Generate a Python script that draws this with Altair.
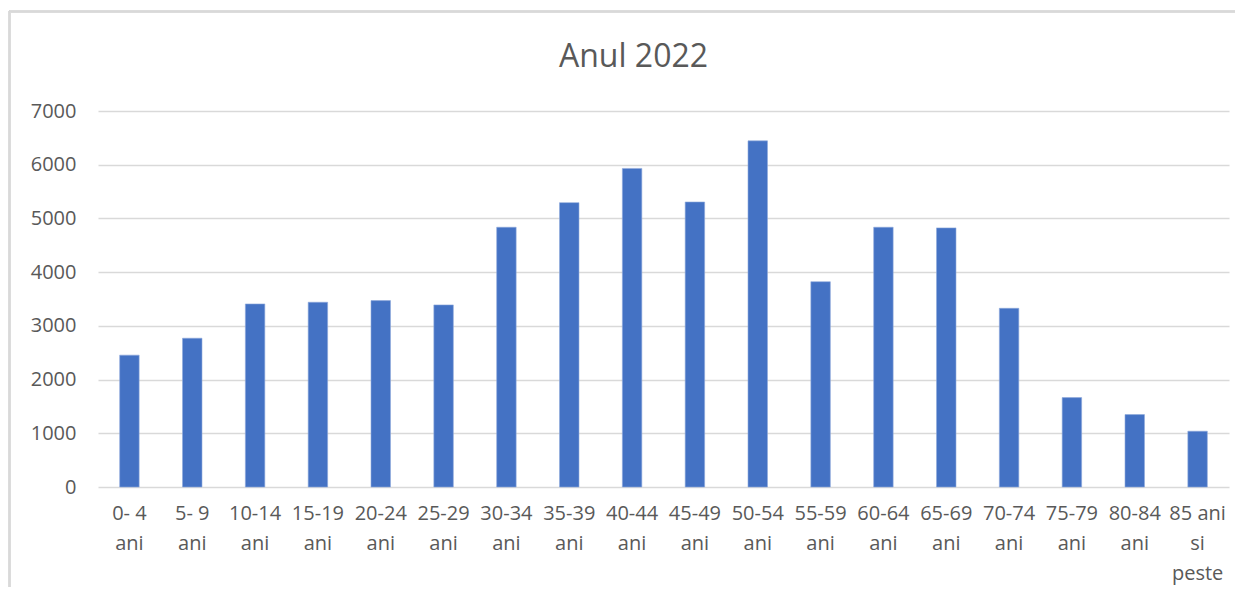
import altair as alt
import pandas as pd

categories = [
    "0- 4|ani", "5- 9|ani", "10-14|ani", "15-19|ani", "20-24|ani", "25-29|ani",
    "30-34|ani", "35-39|ani", "40-44|ani", "45-49|ani", "50-54|ani", "55-59|ani",
    "60-64|ani", "65-69|ani", "70-74|ani", "75-79|ani", "80-84|ani", "85 ani|si|peste",
]
values = [2455, 2770, 3408, 3440, 3470, 3390, 4836, 5294, 5931, 5306, 6444, 3822,
          4836, 4824, 3327, 1664, 1348, 1039]
y_ticks = [0, 1000, 2000, 3000, 4000, 5000, 6000, 7000]

df = pd.DataFrame({"grupa": categories, "valoare": values})

FONT = "Open Sans"
TXT = "#595959"
GRID = "#d9d9d9"

bars = alt.Chart(df).mark_bar(color="#4472C4", stroke="#8faadc", strokeWidth=0.6).encode(
    x=alt.X(
        "grupa:N",
        sort=None,
        title=None,
        scale=alt.Scale(paddingInner=0.69, paddingOuter=0.345),
        axis=alt.Axis(
            labelAngle=0,
            labelExpr="split(datum.label, '|')",
            labelFont=FONT,
            labelFontSize=20,
            labelColor=TXT,
            labelLineHeight=30,
            labelBaseline="top",
            labelPadding=16,
            ticks=False,
            domain=False,
            grid=False,
        ),
    ),
    y=alt.Y(
        "valoare:Q",
        title=None,
        scale=alt.Scale(domain=[0, 7000], nice=False),
        axis=alt.Axis(
            values=y_ticks,
            format="d",
            labelFont=FONT,
            labelFontSize=20,
            labelColor=TXT,
            labelPadding=22,
            ticks=False,
            domain=False,
            grid=True,
            gridColor=GRID,
            gridWidth=1.3,
        ),
    ),
)

border_left = alt.Chart(df).mark_rule(color=GRID, strokeWidth=1.5).encode(
    x=alt.value(-88.5), y=alt.value(-100), y2=alt.value(500)
)
border_top = alt.Chart(df).mark_rule(color=GRID, strokeWidth=1.5).encode(
    x=alt.value(-88.5), x2=alt.value(1200), y=alt.value(-99.5)
)

chart = alt.layer(border_left, border_top, bars).properties(
    width=1131,
    height=376,
    title=alt.TitleParams(
        "Anul 2022",
        font=FONT,
        fontSize=32,
        fontWeight="normal",
        color=TXT,
        anchor="middle",
        frame="group",
        baseline="alphabetic",
        offset=0,
        dy=89,
        dx=-30,
    ),
    autosize=alt.AutoSizeParams(type="none"),
    padding={"left": 90, "top": 103, "right": 6, "bottom": 100},
).configure_view(stroke=None)

chart.save("out.html", embed_options={"renderer": "svg", "actions": False})
